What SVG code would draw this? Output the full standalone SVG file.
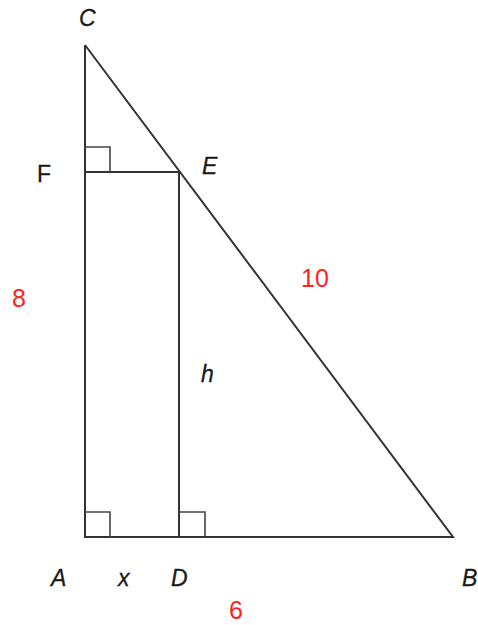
<svg xmlns="http://www.w3.org/2000/svg" width="478" height="625" viewBox="0 0 478 625">
<style>
.ln{stroke:#333;stroke-width:2;fill:none;stroke-linejoin:miter}
.sq{stroke:#444;stroke-width:1.6;fill:none}
.lb{font-family:"Liberation Sans",Arial,sans-serif;font-size:23px;fill:#1a1a1a;stroke:#1a1a1a;stroke-width:0.3}
.it{font-style:italic}
.red{font-family:"Liberation Sans",Arial,sans-serif;font-size:25px;fill:#ff1f1f}
</style>
<rect width="478" height="625" fill="#fff"/>
<g id="connectors">
<polyline class="ln" points="85,45 85,537 453,537 85,45"/>
<line class="ln" x1="85" y1="172" x2="179" y2="172"/>
<line class="ln" x1="179" y1="172" x2="179" y2="537"/>
<polyline class="sq" points="85,147 110,147 110,172"/>
<polyline class="sq" points="85,512 110,512 110,537"/>
<polyline class="sq" points="179,512 205,512 205,537"/>
</g>
<g id="C"><text class="lb it" x="79" y="26">C</text></g>
<g id="E"><text class="lb it" x="202" y="174">E</text></g>
<g id="F"><text class="lb" x="37" y="182">F</text></g>
<g id="A"><text class="lb it" x="51" y="586">A</text></g>
<g id="x"><text class="lb it" x="118" y="586">x</text></g>
<g id="D"><text class="lb it" x="171" y="586">D</text></g>
<g id="B"><text class="lb it" x="462" y="586">B</text></g>
<g id="h"><text class="lb it" x="201" y="382">h</text></g>
<g id="l8"><text class="red" x="12" y="307">8</text></g>
<g id="l10"><text class="red" x="301" y="287">10</text></g>
<g id="l6"><text class="red" x="229" y="619">6</text></g>
</svg>
